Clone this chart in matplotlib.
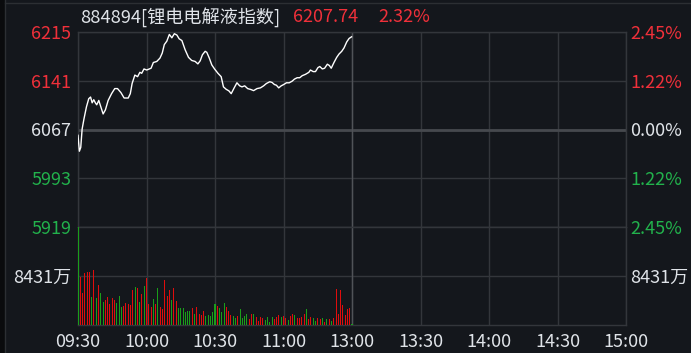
import matplotlib
matplotlib.use("Agg")
import matplotlib.pyplot as plt
import numpy as np
from matplotlib.lines import Line2D
from matplotlib.patches import Rectangle

plt.rcParams['font.family'] = ['Noto Sans CJK SC', 'DejaVu Sans']

# ─── Data ──────────────────────────────────────────────────────────────────────
# minutes after 09:30 (13:00 == 120 on the compressed trading axis)
line_min = [0, 0.6, 1.2, 1.8, 2.6, 3.7, 4.7, 5.5, 6.2, 6.9, 7.6, 8.2, 9.1, 10.0,
            11.0, 12.0, 13.2, 14.7, 16.1, 17.3, 18.8, 20.2, 22.0, 22.9, 23.7, 24.9,
            26.1, 27.1, 27.9, 28.9, 30.1, 32.0, 33.0, 34.5, 35.9, 36.9, 37.8, 38.9,
            40.0, 41.1, 42.2, 43.3, 44.3, 45.5, 46.9, 48.4, 49.8, 51.3, 52.5, 53.5,
            54.5, 55.7, 56.4, 57.5, 58.6, 59.8, 61.3, 62.7, 63.7, 64.9, 66.1, 67.1,
            68.4, 69.6, 70.8, 71.8, 73.0, 74.3, 75.8, 76.9, 78.4, 79.9, 81.3, 82.5,
            84.0, 85.0, 86.0, 86.9, 87.9, 89.0, 90.1, 91.3, 92.5, 93.8, 94.8, 96.0,
            97.1, 98.2, 99.6, 101.1, 101.8, 103.0, 104.0, 105.1, 105.9, 107.0, 108.0,
            109.2, 110.1, 110.9, 112.1, 113.3, 114.3, 115.5, 116.5, 117.7, 118.7, 119.8]
line_price = [6058.2, 6034.0, 6039.7, 6067.5, 6082.9, 6101.4, 6113.7, 6116.3, 6107.5,
              6112.2, 6107.5, 6104.5, 6111.1, 6101.4, 6090.6, 6096.8, 6111.1, 6121.4,
              6129.1, 6129.1, 6123.0, 6114.8, 6114.8, 6121.4, 6136.8, 6149.6, 6147.2,
              6153.8, 6152.3, 6158.9, 6157.3, 6160.0, 6168.7, 6170.3, 6175.4, 6183.1,
              6195.9, 6201.1, 6211.3, 6206.2, 6212.4, 6210.4, 6204.7, 6202.0, 6188.2,
              6176.5, 6171.8, 6170.3, 6166.6, 6171.2, 6180.5, 6185.7, 6184.2, 6175.4,
              6165.0, 6158.9, 6152.3, 6147.2, 6131.7, 6128.0, 6125.6, 6121.4, 6130.2,
              6137.9, 6133.3, 6131.7, 6133.3, 6129.1, 6127.6, 6126.0, 6129.1, 6130.2,
              6133.3, 6136.8, 6139.5, 6138.4, 6135.3, 6134.2, 6130.2, 6133.3, 6135.3,
              6137.9, 6137.9, 6140.4, 6143.5, 6145.6, 6145.6, 6148.7, 6150.7, 6153.8,
              6157.3, 6154.9, 6154.9, 6161.0, 6162.6, 6158.9, 6160.0, 6166.1, 6164.1,
              6160.0, 6168.7, 6176.5, 6181.5, 6185.7, 6190.8, 6200.0, 6205.1, 6207.7]

# volume per minute (万), 0..120
vol = [25000, 8193, 5539, 9001, 9174, 9174, 4847, 9520, 4674, 6924,
       5539, 3981, 4328, 4847, 3635, 4674, 4328, 3808, 5020, 3116,
       3289, 3808, 3635, 3462, 6059, 6578, 6405, 3981, 5366, 6751,
       8136, 3635, 3116, 4501, 3635, 6405, 3116, 2770, 7790, 5020,
       6059, 4328, 6405, 4154, 2943, 2943, 2943, 2250, 2423, 2423,
       2943, 1904, 3116, 1904, 1731, 2423, 1558, 1731, 1558, 2250,
       3635, 3289, 2943, 2250, 3808, 3116, 2423, 1731, 1558, 1212,
       1558, 2770, 1212, 1558, 1904, 1039, 1904, 1904, 1385, 692,
       1385, 1212, 866, 1385, 519, 1385, 1039, 1385, 1731, 1385,
       1558, 1212, 866, 1558, 1904, 1731, 1212, 1212, 1385, 1904,
       2770, 1039, 1385, 1212, 692, 1212, 1039, 1212, 519, 1039,
       1039, 692, 1212, 6232, 1904, 6059, 3462, 1731, 2770, 2943, 173]
vol_up = "GRRRRRGRGRGGRRRRRGGGRRRRRGRGRGRRRGRGRRRR" \
         "RGRRGGGGGGRGRRRRGGGGGRGGGRRRGGRGGGGRRGRR" \
         "RRGGGGRRRGRRGRRGRRRRGRRGGRRGRGRGRRRRRRRRG"

prev_close = 6067
price_ticks = [6215, 6141, 6067, 5993, 5919]
pct_labels = ["2.45%", "1.22%", "0.00%", "1.22%", "2.45%"]
vol_tick = 8431
time_labels = ["09:30", "10:00", "10:30", "11:00", "13:00", "13:30", "14:00", "14:30", "15:00"]
title_name = "884894[锂电电解液指数]"
last_price = "6207.74"
last_pct = "2.32%"

# ─── Style ─────────────────────────────────────────────────────────────────────
BG = "#14171c"
GRID = "#33363b"
RED = "#f0303a"
GREEN = "#22b24c"
TXT = "#dfe3e8"
BAR_RED = "#e00d0d"
BAR_GREEN = "#1a9e1a"
FS = 13
tick_colors = [RED, RED, TXT, GREEN, GREEN]

W, H = 691, 353
fig = plt.figure(figsize=(W / 100, H / 100), dpi=100, facecolor=BG)

L, R = 78, 626
T, MID, B = 32, 227, 325
ax = fig.add_axes([L / W, 1 - MID / H, (R - L) / W, (MID - T) / H], facecolor=BG)
axv = fig.add_axes([L / W, 1 - B / H, (R - L) / W, (B - MID) / H], facecolor=BG, sharex=ax)

for a in (ax, axv):
    for s in a.spines.values():
        s.set_color(GRID)
        s.set_linewidth(1)
    a.tick_params(length=0, labelsize=FS)
    a.set_xlim(0, 240)
    a.set_xticks(np.arange(0, 241, 30))
    a.grid(True, color=GRID, linewidth=1)
    a.set_axisbelow(True)

# price panel
ax.set_ylim(prev_close - 148, prev_close + 148)
ax.set_yticks(price_ticks)
ax.set_yticklabels([str(p) for p in price_ticks])
for lab, c in zip(ax.get_yticklabels(), tick_colors):
    lab.set_color(c)
ax.tick_params(axis="x", labelbottom=False)
ax.tick_params(axis="y", pad=5)
ax.axhline(prev_close, color="#46494e", linewidth=2, zorder=1)
ax.axvline(120, color="#505358", linewidth=1, zorder=1)
ax.plot(line_min, line_price, color="white", linewidth=1, zorder=3)

axr = ax.twinx()
axr.set_ylim(ax.get_ylim())
axr.set_yticks(price_ticks)
axr.set_yticklabels(pct_labels)
axr.tick_params(length=0, labelsize=FS, pad=3)
for lab, c in zip(axr.get_yticklabels(), tick_colors):
    lab.set_color(c)
for s in axr.spines.values():
    s.set_visible(False)

# volume panel
colors = [BAR_RED if c == "R" else BAR_GREEN for c in vol_up]
axv.bar(np.arange(len(vol)), vol, width=0.44, color=colors, linewidth=0,
        antialiased=False, zorder=3)
axv.set_ylim(0, vol_tick * 2)
axv.set_yticks([vol_tick])
axv.set_yticklabels([f"{vol_tick}万"], color=TXT)
axv.tick_params(axis="y", pad=5)
axv.set_xticklabels(time_labels, color=TXT)
axv.tick_params(axis="x", pad=6)
axv.axvline(120, color="#505358", linewidth=1, zorder=1)
axvr = axv.twinx()
axvr.set_ylim(axv.get_ylim())
axvr.set_yticks([vol_tick])
axvr.set_yticklabels([f"{vol_tick}万"], color=TXT)
axvr.tick_params(length=0, labelsize=FS, pad=3)
for s in axvr.spines.values():
    s.set_visible(False)

# header
fig.text(80 / W, 1 - 17 / H, title_name, color=TXT, fontsize=13.1, va="center", ha="left")
fig.text(293 / W, 1 - 17 / H, last_price, color=RED, fontsize=FS, va="center", ha="left")
fig.text(378 / W, 1 - 17 / H, last_pct, color=RED, fontsize=FS, va="center", ha="left")

# window frame bits
fig.add_artist(Rectangle((0, 0), 4 / W, 1, transform=fig.transFigure, color="#0a0b0d", zorder=0))
fig.add_artist(Line2D([4.5 / W, 4.5 / W], [0, 1], transform=fig.transFigure, color="#2c2f33", linewidth=1))
fig.add_artist(Line2D([4.5 / W, 1], [1 - 2.5 / H, 1 - 2.5 / H], transform=fig.transFigure, color="#2c2f33", linewidth=1))

fig.savefig("out.png", dpi=100, facecolor=BG)
